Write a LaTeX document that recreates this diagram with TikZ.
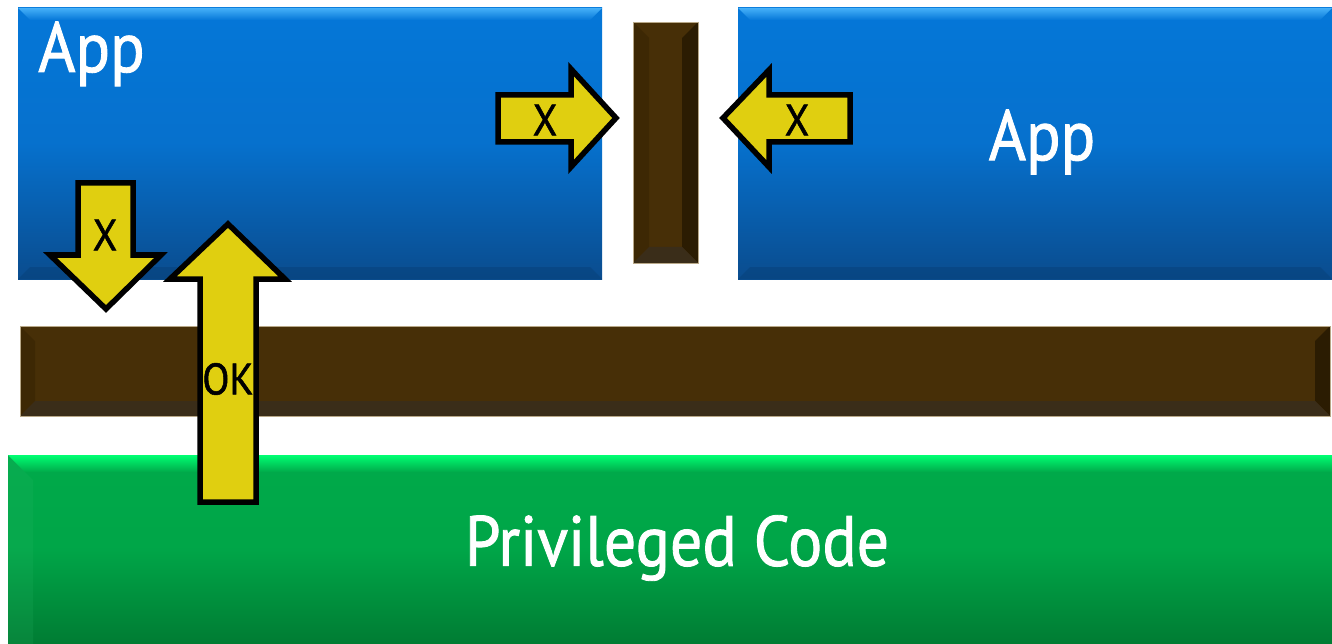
\documentclass[tikz,border=0pt]{standalone}
\usepackage{fontspec}
\setmainfont{PT Sans}
\newfontfamily\clearfont[FakeStretch=0.9, FakeBold=1.2]{PT Sans}
\definecolor{appblue}{HTML}{0577D8}
\definecolor{appbluedark}{HTML}{0A4C8E}
\definecolor{appbluelight}{HTML}{45B0F8}
\definecolor{wallbrown}{HTML}{472F07}
\definecolor{wallleft}{HTML}{3D2804}
\definecolor{wallright}{HTML}{2B1C02}
\definecolor{wallbottom}{HTML}{3A2D19}
\definecolor{wallrim}{HTML}{B8A888}
\definecolor{privgreen}{HTML}{00AA4A}
\definecolor{privgreendark}{HTML}{007C33}
\definecolor{privgreenlight}{HTML}{00FF72}
\definecolor{arrowyellow}{HTML}{E0CF10}
\tikzset{
  blockarrow/.style={fill=arrowyellow, draw=black, line width=5.5pt, line join=miter},
  arrowlabel/.style={text=black, font=\clearfont\fontsize{44}{46}\selectfont, inner sep=0pt},
  boxlabel/.style={text=white, font=\clearfont\fontsize{71}{73}\selectfont, inner sep=0pt},
  wallrim/.style={draw=wallrim, line width=0.8pt}
}
\begin{document}
\begin{tikzpicture}[x=1pt, y=-1pt]
    \useasboundingbox[fill=white] (0,0) rectangle (1332,644);

    % Left and right App boxes
    \foreach \xa/\xb in {18/602, 738/1332} {
        \shade[top color=appblue, bottom color=appbluedark, middle color=appblue!85!appbluedark]
            (\xa,8) rectangle (\xb,279);
        \shade[top color=appbluelight, bottom color=appblue]
            (\xa,8) -- (\xb,8) -- (\xb-12,20) -- (\xa+12,20) -- cycle;
        \fill[appbluedark!85!black, opacity=0.5]
            (\xa,279) -- (\xb,279) -- (\xb-12,267) -- (\xa+12,267) -- cycle;
    }
    \node[boxlabel, anchor=base west] (leftapp) at (38,72) {App};
    \node[boxlabel] (rightapp) at (1042,142) {App};

    % Vertical wall between the apps
    \fill[wallbrown] (633,22) rectangle (698,263);
    \fill[wallleft] (633,22) -- (649,38) -- (649,247) -- (633,263) -- cycle;
    \fill[wallright] (698,22) -- (682,38) -- (682,247) -- (698,263) -- cycle;
    \fill[wallbottom] (633,263) -- (649,247) -- (682,247) -- (698,263) -- cycle;
    \draw[wallrim] (633,22) rectangle (698,263);

    % Horizontal wall above the privileged code
    \fill[wallbrown] (20,326) rectangle (1330,416);
    \fill[wallleft] (20,326) -- (35,341) -- (35,401) -- (20,416) -- cycle;
    \fill[wallright] (1330,326) -- (1315,341) -- (1315,401) -- (1330,416) -- cycle;
    \fill[wallbottom] (20,416) -- (35,401) -- (1315,401) -- (1330,416) -- cycle;
    \draw[wallrim] (20,326) rectangle (1330,416);

    % Privileged code
    \shade[top color=privgreen, bottom color=privgreendark, middle color=privgreen!90!privgreendark]
        (8,455) rectangle (1332,644);
    \shade[top color=privgreenlight, bottom color=privgreen]
        (8,455) -- (1332,455) -- (1332,472) -- (25,472) -- cycle;
    \fill[privgreen!80!white, opacity=0.15] (8,455) -- (33,480) -- (33,644) -- (8,644) -- cycle;
    \node[boxlabel] (privcode) at (677,548) {Privileged Code};

    % Blocked accesses
    \draw[blockarrow] (498,95) -- (571,95) -- (571,69) -- (616,118) -- (571,167) -- (571,142) -- (498,142) -- cycle;
    \node[arrowlabel] (xright) at (545,120) {X};
    \draw[blockarrow] (850,95) -- (769,95) -- (769,70) -- (723,118) -- (769,167) -- (769,142) -- (850,142) -- cycle;
    \node[arrowlabel] (xleft) at (797,120) {X};
    \draw[blockarrow] (78,183) -- (133,183) -- (133,255) -- (161,255) -- (106,309) -- (50,255) -- (78,255) -- cycle;
    \node[arrowlabel] (xdown) at (105,235) {X};

    % Allowed call into privileged code
    \draw[blockarrow] (200,502) -- (256,502) -- (256,279) -- (285,279) -- (228,224) -- (170,279) -- (200,279) -- cycle;
    \node[arrowlabel] (ok) at (228,379) {OK};
\end{tikzpicture}
\end{document}
